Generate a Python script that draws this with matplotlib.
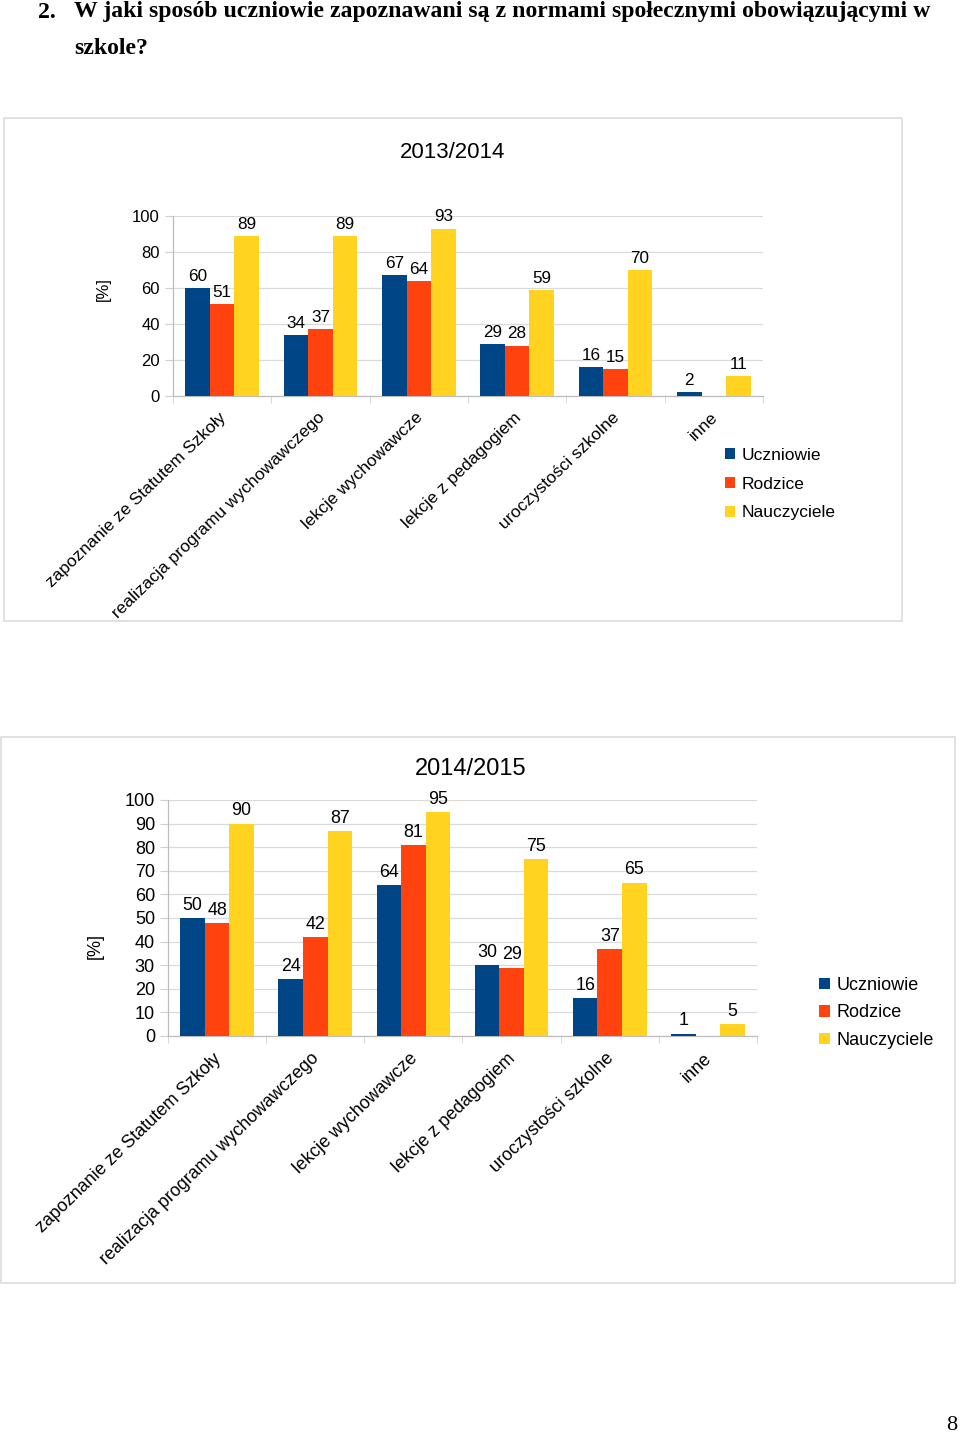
import matplotlib
matplotlib.use("Agg")
import matplotlib.pyplot as plt
import numpy as np
from matplotlib.patches import Rectangle
from matplotlib.transforms import ScaledTranslation

plt.rcParams['font.family'] = ['Liberation Sans', 'DejaVu Sans']

categories = ["zapoznanie ze Statutem Szkoły",
              "realizacja programu wychowawczego",
              "lekcje wychowawcze",
              "lekcje z pedagogiem",
              "uroczystości szkolne",
              "inne"]
series_names = ["Uczniowie", "Rodzice", "Nauczyciele"]
colors = ["#004586", "#ff420e", "#ffd320"]

uczniowie_2013 = [60, 34, 67, 29, 16, 2]
rodzice_2013 = [51, 37, 64, 28, 15, 0]
nauczyciele_2013 = [89, 89, 93, 59, 70, 11]

uczniowie_2014 = [50, 24, 64, 30, 16, 1]
rodzice_2014 = [48, 42, 81, 29, 37, 0]
nauczyciele_2014 = [90, 87, 95, 75, 65, 5]

W, H = 960, 1436
fig = plt.figure(figsize=(W / 100, H / 100), dpi=100)


def fbox(x0, y0, x1, y1):
    return [x0 / W, 1 - y1 / H, (x1 - x0) / W, (y1 - y0) / H]


def fx(x):
    return x / W


def fy(y):
    return 1 - y / H


# page heading
t1 = fig.text(fx(74), fy(12), "W jaki sposób uczniowie zapoznawani są z normami społecznymi obowiązującymi w",
              family='Liberation Serif', weight='bold', fontsize=16, ha='left', va='center')
fig.canvas.draw()
wpx = t1.get_window_extent().width
fs = 16 * 856 / wpx
t1.set_fontsize(fs)
fig.text(fx(38), fy(12), "2.", family='Liberation Serif', weight='bold', fontsize=fs, ha='left', va='center')
fig.text(fx(74), fy(49), "szkole?", family='Liberation Serif', weight='bold', fontsize=fs, ha='left', va='center')
fig.text(fx(952), fy(1425), "8", family='Liberation Serif', fontsize=16, ha='center', va='center')

# chart frames
for (x0, y0, x1, y1) in [(4, 118, 902, 621), (1, 737, 955, 1283)]:
    fig.patches.append(Rectangle((fx(x0), fy(y1)), (x1 - x0) / W, (y1 - y0) / H,
                                 transform=fig.transFigure, fill=False,
                                 edgecolor='#dcdcdc', linewidth=1.2))


def draw_chart(box, data, yticks, title, title_xy, ylabel_xy, legend_xy, labelspacing, fsz):
    ax = fig.add_axes(fbox(*box))
    n = len(categories)
    x = np.arange(n)
    bw = 0.25
    for i, (vals, c, name) in enumerate(zip(data, colors, series_names)):
        pos = x + (i - 1) * bw
        bars = ax.bar(pos, vals, width=bw, color=c, label=name, zorder=3)
        for b, v in zip(bars, vals):
            if v > 0:
                ax.annotate(str(v), (b.get_x() + b.get_width() / 2, v), xytext=(0, 3),
                            textcoords='offset points', ha='center', va='bottom',
                            fontsize=fsz['data'])
    ax.set_xlim(-0.5, n - 0.5)
    ax.set_ylim(0, 100)
    ax.set_yticks(yticks)
    ax.set_yticklabels([str(v) for v in yticks], fontsize=fsz['tick'])
    ax.yaxis.grid(True, color='#dadada', linewidth=0.9, zorder=0)
    ax.set_axisbelow(True)
    for s in ['top', 'right']:
        ax.spines[s].set_visible(False)
    for s in ['left', 'bottom']:
        ax.spines[s].set_color('#bdbdbd')
        ax.spines[s].set_linewidth(0.9)
    ax.tick_params(axis='y', length=5.8, color='#d0d0d0', pad=3.6)
    ax.set_xticks(x)
    ax.set_xticklabels(categories, rotation=44, ha='right', va='top', fontsize=fsz['cat'],
                       rotation_mode='default')
    ax.tick_params(axis='x', which='major', length=0, pad=10)
    shift = ScaledTranslation(7 / 100, 0, fig.dpi_scale_trans)
    for lab in ax.get_xticklabels():
        lab.set_transform(lab.get_transform() + shift)
    ax.set_xticks(np.arange(n + 1) - 0.5, minor=True)
    ax.tick_params(axis='x', which='minor', length=5, color='#d0d0d0')
    fig.text(fx(title_xy[0]), fy(title_xy[1]), title, fontsize=fsz['title'], ha='center', va='center')
    fig.text(fx(ylabel_xy[0]), fy(ylabel_xy[1]), "[%]", fontsize=fsz['tick'], rotation=90,
             ha='center', va='center')
    ax.legend(loc='upper left', bbox_to_anchor=(fx(legend_xy[0]), fy(legend_xy[1])),
              bbox_transform=fig.transFigure, frameon=False, fontsize=fsz['legend'],
              handlelength=0.6, handleheight=0.6, handletextpad=0.35,
              labelspacing=labelspacing, borderpad=0, borderaxespad=0)
    return ax


draw_chart((173, 216, 763, 396),
           [uczniowie_2013, rodzice_2013, nauczyciele_2013],
           list(range(0, 101, 20)), "2013/2014", (453, 153), (103, 289),
           (725, 448), 0.79,
           dict(data=12.3, tick=12, cat=12.5, title=16, legend=12.5))

draw_chart((168, 800, 757, 1036),
           [uczniowie_2014, rodzice_2014, nauczyciele_2014],
           list(range(0, 101, 10)), "2014/2015", (471, 769), (95, 946),
           (819, 977), 0.58,
           dict(data=12.9, tick=13, cat=12.9, title=17, legend=13))

fig.savefig("out.png", dpi=100)
